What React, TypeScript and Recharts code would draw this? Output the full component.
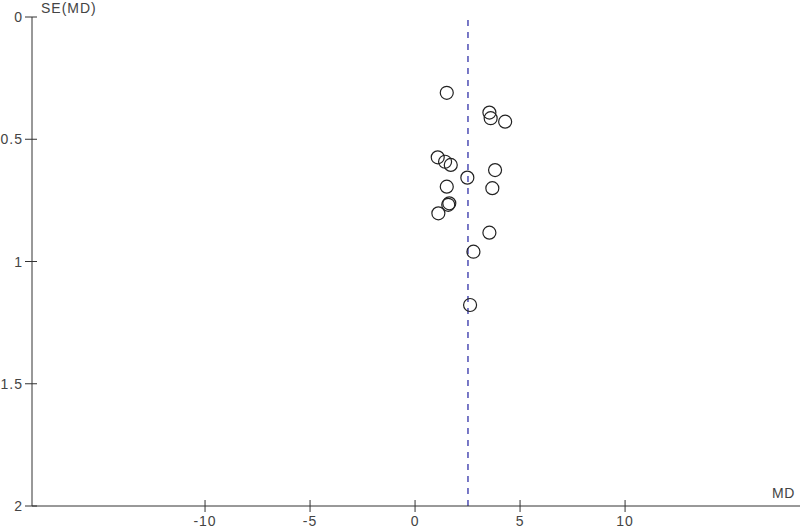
import { ScatterChart, Scatter, XAxis, YAxis, ReferenceLine } from "recharts";

// study estimates
const md = [1.51, 3.54, 3.6, 4.29, 1.08, 1.43, 1.7, 3.81, 2.49, 1.51, 3.68, 1.63, 1.58, 1.11, 3.54, 2.78, 2.62];
const se = [0.31, 0.391, 0.414, 0.428, 0.574, 0.592, 0.605, 0.626, 0.657, 0.694, 0.7, 0.762, 0.768, 0.803, 0.882, 0.96, 1.178];
const pooledMD = 2.52;
const xTicks = [-10, -5, 0, 5, 10];
const yTicks = [0, 0.5, 1, 1.5, 2];

const points = md.map((m, i) => ({ md: m, se: se[i] }));

const axisColor = "#333";
const textColor = "#444";
const font = "'Liberation Sans', Arial, sans-serif";

const XTick = (props: any) => {
  const { x, y, payload } = props;
  const axisY = y - 8;
  return (
    <g>
      <line x1={x} x2={x} y1={axisY - 6} y2={axisY + 6} stroke={axisColor} />
      <text x={x} y={axisY + 20} textAnchor="middle" fill={textColor} fontSize={14} fontFamily={font} letterSpacing={1}>
        {payload.value}
      </text>
    </g>
  );
};

const YTick = (props: any) => {
  const { x, y, payload } = props;
  const axisX = x + 8;
  return (
    <g>
      <line x1={axisX - 7} x2={axisX + 5} y1={y} y2={y} stroke={axisColor} />
      <text x={axisX - 9} y={y + 5} textAnchor="end" fill={textColor} fontSize={14} fontFamily={font} letterSpacing={1}>
        {payload.value}
      </text>
    </g>
  );
};

const Ring = (props: any) => {
  const { cx, cy } = props;
  return <circle cx={cx} cy={cy} r={6.5} fill="none" stroke="#222" strokeWidth={1.2} />;
};

export default function App() {
  return (
    <div style={{ position: "absolute", left: 0, top: 0, width: 800, height: 528, background: "#fff" }}>
      <ScatterChart width={800} height={528} margin={{ top: 17, right: 0, bottom: 0, left: 0 }}>
        <XAxis
          type="number"
          dataKey="md"
          domain={[-18.24, 18.33]}
          allowDataOverflow
          ticks={xTicks}
          height={22}
          tickLine={false}
          stroke={axisColor}
          tick={XTick}
        />
        <YAxis
          type="number"
          dataKey="se"
          reversed
          domain={[0, 2]}
          ticks={yTicks}
          width={32}
          tickLine={false}
          stroke={axisColor}
          tick={YTick}
        />
        <ReferenceLine x={pooledMD} stroke="#5858b8" strokeDasharray="6 6" strokeWidth={1.6} />
        <Scatter data={points} shape={Ring} isAnimationActive={false} />
      </ScatterChart>
      <div style={{ position: "absolute", left: 41, top: 0, fontFamily: font, fontSize: 14, letterSpacing: 1, color: textColor }}>
        SE(MD)
      </div>
      <div style={{ position: "absolute", left: 772, top: 485, fontFamily: font, fontSize: 14, letterSpacing: 0.5, color: textColor }}>
        MD
      </div>
    </div>
  );
}
